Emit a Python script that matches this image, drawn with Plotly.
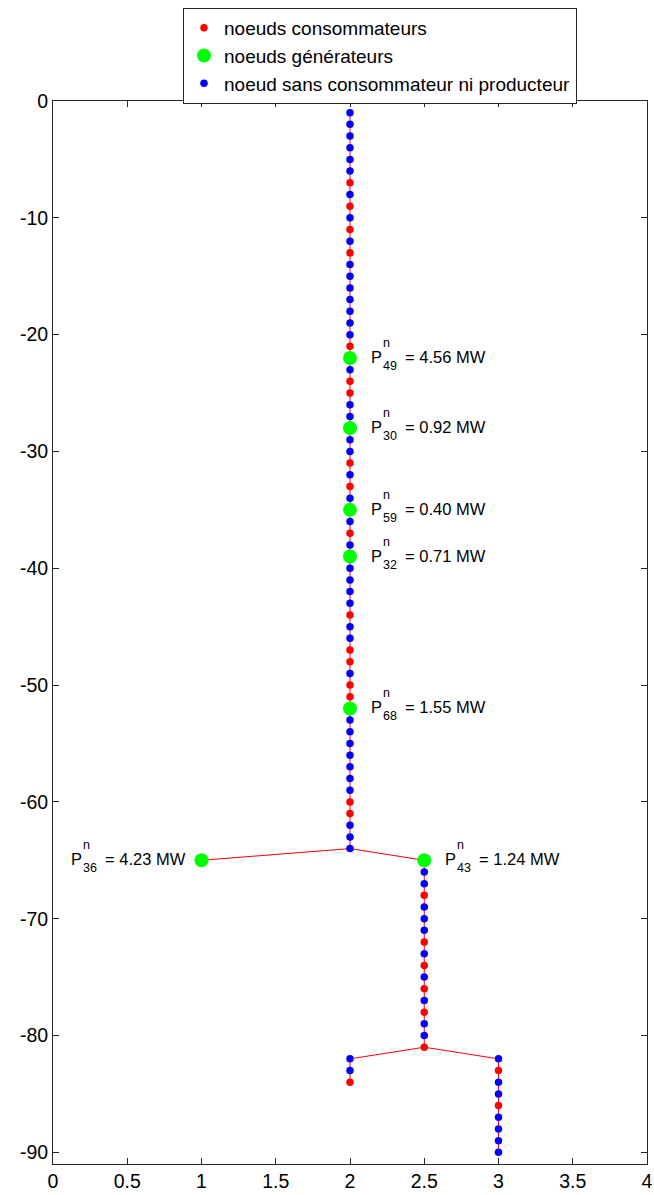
import plotly.graph_objects as go

# ---- data ----
# trunk at x = 2 (nodes y = -1 .. -64)
trunk_x = [2] * 64
trunk_y = [-1, -2, -3, -4, -5, -6, -7, -8, -9, -10, -11, -12, -13, -14, -15, -16,
           -17, -18, -19, -20, -21, -22, -23, -24, -25, -26, -27, -28, -29, -30, -31, -32,
           -33, -34, -35, -36, -37, -38, -39, -40, -41, -42, -43, -44, -45, -46, -47, -48,
           -49, -50, -51, -52, -53, -54, -55, -56, -57, -58, -59, -60, -61, -62, -63, -64]
trunk_t = list("nnnnnncncncnc" "nnnnnnn" "cgnccnngnnc" "ncngncng" "nnnncnnccnccg" "nnnnnnnccnnn")

# branch to the left: from (2,-64) to (1,-65)
left_x = [2, 1]
left_y = [-64, -65]
left_t = ["-", "g"]

# branch at x = 2.5 (from (2,-64), nodes y = -65 .. -81)
mid_x = [2, 2.5, 2.5, 2.5, 2.5, 2.5, 2.5, 2.5, 2.5, 2.5, 2.5, 2.5, 2.5, 2.5, 2.5, 2.5, 2.5, 2.5]
mid_y = [-64, -65, -66, -67, -68, -69, -70, -71, -72, -73, -74, -75, -76, -77, -78, -79, -80, -81]
mid_t = ["-"] + list("gnncnnncncncncnnc")

# sub-branch at x = 2 (from (2.5,-81), nodes y = -82 .. -84)
low_left_x = [2.5, 2, 2, 2]
low_left_y = [-81, -82, -83, -84]
low_left_t = ["-", "n", "n", "c"]

# sub-branch at x = 3 (from (2.5,-81), nodes y = -82 .. -90)
low_right_x = [2.5, 3, 3, 3, 3, 3, 3, 3, 3, 3]
low_right_y = [-81, -82, -83, -84, -85, -86, -87, -88, -89, -90]
low_right_t = ["-", "n", "c", "n", "n", "c", "n", "n", "n", "n"]

# generator labels
gen_x = [2, 2, 2, 2, 2, 1, 2.5]
gen_y = [-22, -28, -35, -39, -52, -65, -65]
gen_id = ["49", "30", "59", "32", "68", "36", "43"]
gen_power = ["4.56", "0.92", "0.40", "0.71", "1.55", "4.23", "1.24"]
gen_side = ["right", "right", "right", "right", "right", "left", "right"]

x_ticks = [0, 0.5, 1, 1.5, 2, 2.5, 3, 3.5, 4]
x_ticklabels = ["0", "0.5", "1", "1.5", "2", "2.5", "3", "3.5", "4"]
y_ticks = [0, -10, -20, -30, -40, -50, -60, -70, -80, -90]
y_ticklabels = ["0", "-10", "-20", "-30", "-40", "-50", "-60", "-70", "-80", "-90"]

legend_names = {"c": "noeuds consommateurs",
                "g": "noeuds générateurs",
                "n": "noeud sans consommateur ni producteur"}

# ---- figure ----
FONT = "Liberation Sans, Arial, Helvetica, sans-serif"
fig = go.Figure()

branches = [(trunk_x, trunk_y, trunk_t), (left_x, left_y, left_t), (mid_x, mid_y, mid_t),
            (low_left_x, low_left_y, low_left_t), (low_right_x, low_right_y, low_right_t)]

for bx, by, bt in branches:
    fig.add_trace(go.Scatter(x=bx, y=by, mode="lines",
                             line=dict(color="#ff0000", width=1),
                             showlegend=False, hoverinfo="skip"))

styles = {"c": dict(color="#ff0000", size=7.5),
          "g": dict(color="#00ff00", size=14),
          "n": dict(color="#0000ff", size=7.5)}

for key in ["c", "g", "n"]:
    xs, ys = [], []
    for bx, by, bt in branches:
        for xx, yy, tt in zip(bx, by, bt):
            if tt == key:
                xs.append(xx)
                ys.append(yy)
    fig.add_trace(go.Scatter(x=xs, y=ys, mode="markers", name=legend_names[key],
                             marker=dict(color=styles[key]["color"], size=styles[key]["size"],
                                         line=dict(width=0))))

annotations = []
for gx, gy, gid, gp, side in zip(gen_x, gen_y, gen_id, gen_power, gen_side):
    base = 20 if side == "right" else -132
    common = dict(x=gx, y=gy, xref="x", yref="y", showarrow=False,
                  xanchor="left", yanchor="middle", borderpad=0)
    annotations.append(dict(text="P", xshift=base, yshift=1,
                            font=dict(size=16.5, color="black", family=FONT), **common))
    annotations.append(dict(text="n", xshift=base + 12, yshift=15,
                            font=dict(size=12.5, color="black", family=FONT), **common))
    annotations.append(dict(text=gid, xshift=base + 12, yshift=-8,
                            font=dict(size=12.5, color="black", family=FONT), **common))
    annotations.append(dict(text="= " + gp + " MW", xshift=base + 34, yshift=1,
                            font=dict(size=16.5, color="black", family=FONT), **common))

axis_common = dict(showgrid=False, zeroline=False, showline=True, linecolor="#262626",
                   linewidth=1, mirror="ticks", ticks="inside", ticklen=6,
                   tickcolor="#262626", automargin=False, ticklabeloverflow="allow",
                   tickfont=dict(size=19.5, color="black", family=FONT))

fig.update_layout(
    width=654, height=1195,
    margin=dict(l=53, r=7, t=101, b=31, autoexpand=False),
    paper_bgcolor="white", plot_bgcolor="white",
    font=dict(family=FONT, color="black"),
    xaxis=dict(range=[0, 4], tickvals=x_ticks, ticktext=x_ticklabels, **axis_common),
    yaxis=dict(range=[-91, 0], tickvals=y_ticks, ticktext=y_ticklabels, **axis_common),
    legend=dict(x=0.5505, y=1.0875, xanchor="center", yanchor="top",
                bgcolor="white", bordercolor="#262626", borderwidth=1,
                font=dict(size=19, color="black", family=FONT),
                itemwidth=30, tracegroupgap=0, traceorder="normal"),
    annotations=annotations,
    showlegend=True,
)

fig.write_html("out.html",
               config={"displayModeBar": False},
               post_script="document.body.style.margin='0';document.body.style.padding='0';")
